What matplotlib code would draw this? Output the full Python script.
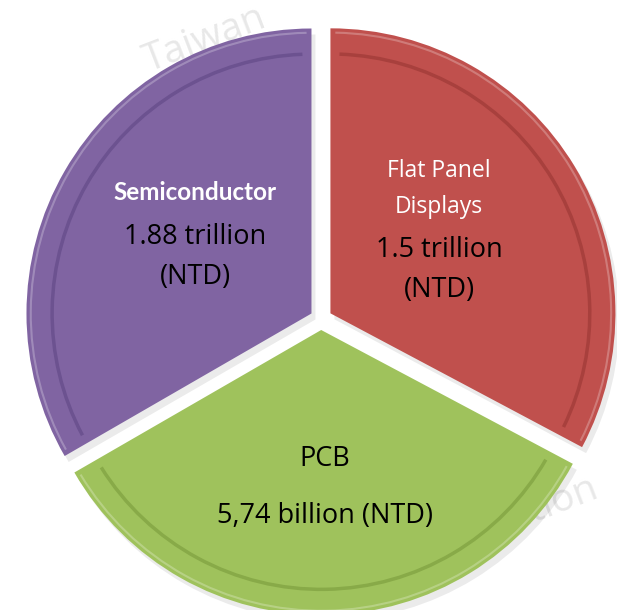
import matplotlib.pyplot as plt
from matplotlib.patches import Arc

# data (slice shares look roughly equal)
sectors = ['Flat Panel\nDisplays', 'PCB', 'Semiconductor']
shares = [118, 122, 120]
values = ['1.5 trillion\n(NTD)', '5,74 billion (NTD)', '1.88 trillion\n(NTD)']
colors = ['#C0504D', '#9FC25C', '#8064A2']
rim_colors = ['#A8403D', '#88AA48', '#6C5290']

W, H = 617, 610
fig = plt.figure(figsize=(W / 100, H / 100), dpi=100)
ax = fig.add_axes([0, 0, 1, 1])

cx, cy, R = 321, H - 319, 285
gap = 11  # explode, in pixels

# faint watermark
wm = dict(color='#d9d9d9', fontsize=28, family='Open Sans', rotation=21,
          ha='center', va='center', zorder=0, alpha=0.6)
ax.text(205, H - 40, 'Taiwan', **wm)
ax.text(500, H - 525, 'Association', **wm)

# drop shadow
sh, _ = ax.pie(shares, colors=['#000000'] * 3, startangle=90, counterclock=False,
               radius=R, center=(cx + 4, cy - 6), explode=[gap] * 3)
for w in sh:
    w.set_alpha(0.08)
    w.set_zorder(1)

wedges, _ = ax.pie(shares, colors=colors, startangle=90, counterclock=False,
                   radius=R, center=(cx, cy), explode=[gap] * 3,
                   wedgeprops=dict(linewidth=0))
for w, rc in zip(wedges, rim_colors):
    w.set_zorder(2)
    arc = Arc(w.center, 2 * R * 0.91, 2 * R * 0.91, theta1=w.theta1 + 2,
              theta2=w.theta2 - 2, color=rc, lw=2.5, zorder=3)
    ax.add_patch(arc)
    arc2 = Arc(w.center, 2 * R * 0.985, 2 * R * 0.985, theta1=w.theta1 + 1,
               theta2=w.theta2 - 1, color='white', lw=1.5, alpha=0.25, zorder=3)
    ax.add_patch(arc2)

font = 'Open Sans'
# labels
ax.text(439, H - 189, sectors[0], color='white', fontsize=16.5, family=font,
        ha='center', va='center', linespacing=1.7, zorder=5)
ax.text(439, H - 270, values[0], color='black', fontsize=19.5, family=font,
        ha='center', va='center', linespacing=1.6, zorder=5)

ax.text(325, H - 459, sectors[1], color='black', fontsize=19.5, family=font,
        ha='center', va='center', zorder=5)
ax.text(325, H - 516, values[1], color='black', fontsize=19.5, family=font,
        ha='center', va='center', zorder=5)

ax.text(195, H - 193, sectors[2], color='white', fontsize=17.5, family='Lato',
        weight='bold', ha='center', va='center', zorder=5)
ax.text(195, H - 257, values[2], color='black', fontsize=19.5, family=font,
        ha='center', va='center', linespacing=1.6, zorder=5)

ax.set_xlim(0, W)
ax.set_ylim(0, H)
ax.set_aspect('equal')
ax.axis('off')

plt.savefig('out.png', dpi=100)
